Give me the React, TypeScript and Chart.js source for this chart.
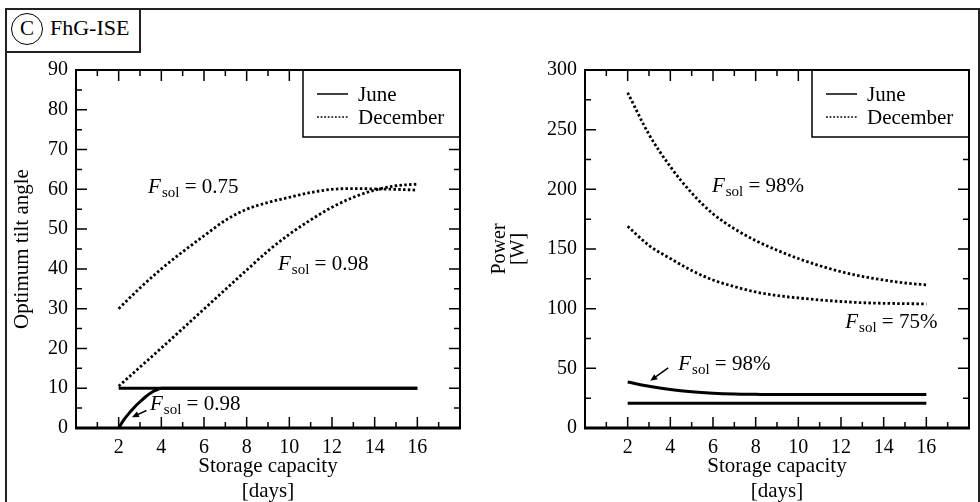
import React, { useEffect, useRef } from "react";
import { Chart, registerables } from "chart.js";

Chart.register(...registerables);

const SERIF = "'Liberation Serif', 'Times New Roman', Times, serif";
Chart.defaults.font.family = SERIF;
Chart.defaults.color = "#000";

// ---------- data ----------
const DAYS = [2, 3, 4, 5, 6, 7, 8, 9, 10, 11, 12, 13, 14, 15, 16];
const X_TICK_LABELS = [2, 4, 6, 8, 10, 12, 14, 16];
const LEGEND_LABELS = ["June", "December"];

// Left panel: optimum tilt angle
const TILT_DEC_075 = [30, 35.2, 40, 44.3, 48.3, 52.2, 55, 56.7, 58, 59.2, 60, 60.2, 60.1, 60, 59.8];
const TILT_DEC_098 = [10.5, 15.3, 20.1, 25, 29.9, 34.8, 39.7, 44.5, 48.7, 52.3, 55.5, 58, 59.8, 60.9, 61.3];
const TILT_JUN_075 = [10, 10, 10, 10, 10, 10, 10, 10, 10, 10, 10, 10, 10, 10, 10];
const TILT_JUN_098_DAYS = [2, 2.25, 2.5, 2.75, 3, 3.25, 3.5, 3.75, 4, 5, 6, 7, 8, 9, 10, 11, 12, 13, 14, 15, 16];
const TILT_JUN_098 = [0, 2.1, 3.8, 5.3, 6.6, 7.8, 8.8, 9.5, 10, 10, 10, 10, 10, 10, 10, 10, 10, 10, 10, 10, 10];

// Right panel: power [W]
const POWER_DEC_098 = [281, 246, 219, 197, 179.5, 167, 157, 149, 142, 136, 131, 127, 124, 121.5, 120];
const POWER_DEC_075 = [169, 153, 142, 132, 124, 118.5, 114, 111, 109, 107.3, 106, 105, 104.5, 104.2, 104];
const POWER_JUN_098 = [38.5, 35, 32.3, 30.4, 29.2, 28.5, 28.2, 28, 28, 28, 28, 28, 28, 28, 28];
const POWER_JUN_075 = [20.7, 20.7, 20.7, 20.7, 20.7, 20.7, 20.7, 20.7, 20.7, 20.7, 20.7, 20.7, 20.7, 20.7, 20.7];

const TILT_LABELS = { dec075: "0.75", dec098: "0.98", jun098: "0.98" };
const POWER_LABELS = { dec098: "98%", dec075: "75%", jun098: "98%" };

// ---------- helpers ----------
const pts = (xs: number[], ys: number[]) => xs.map((x, i) => ({ x, y: ys[i] }));

const solid = {
  borderColor: "#000",
  borderWidth: 3,
  pointRadius: 0,
  cubicInterpolationMode: "monotone",
  borderCapStyle: "butt",
  fill: false,
};
const dotted = {
  ...solid,
  borderWidth: 2.8,
  borderDash: [2.5, 2.3],
};

const isMultiple = (v: number, step: number) => Math.abs(v / step - Math.round(v / step)) < 1e-6;

const frameTicksPlugin = {
  id: "frameTicks",
  afterDatasetsDraw(chart: any, _args: any, opts: any) {
    const { ctx, chartArea: a, scales } = chart;
    const xs = scales.x;
    const ys = scales.y;
    ctx.save();
    ctx.strokeStyle = "#000";
    ctx.lineWidth = 1.5;
    ctx.setLineDash([]);
    for (let v = xs.min; v <= xs.max + 1e-9; v += opts.xMinor) {
      const px = xs.getPixelForValue(v);
      const len = isMultiple(v, opts.xMajor) ? 11 : 6;
      ctx.beginPath();
      ctx.moveTo(px, a.bottom);
      ctx.lineTo(px, a.bottom - len);
      ctx.moveTo(px, a.top);
      ctx.lineTo(px, a.top + len);
      ctx.stroke();
    }
    for (let v = ys.min; v <= ys.max + 1e-9; v += opts.yMinor) {
      const py = ys.getPixelForValue(v);
      const len = isMultiple(v, opts.yMajor) ? 11 : 6;
      ctx.beginPath();
      ctx.moveTo(a.left, py);
      ctx.lineTo(a.left + len, py);
      ctx.moveTo(a.right, py);
      ctx.lineTo(a.right - len, py);
      ctx.stroke();
    }
    ctx.lineWidth = 2;
    ctx.strokeRect(a.left, a.top, a.right - a.left, a.bottom - a.top);
    ctx.lineWidth = 3;
    ctx.beginPath();
    ctx.moveTo(a.left - 1, a.bottom);
    ctx.lineTo(a.right + 1, a.bottom);
    ctx.stroke();
    ctx.restore();
  },
};

const boxLegendPlugin = {
  id: "boxLegend",
  afterDraw(chart: any, _args: any, opts: any) {
    const { ctx, chartArea: a } = chart;
    const w = 157;
    const h = 67;
    const left = a.right - w;
    const top = a.top;
    ctx.save();
    ctx.fillStyle = "#fff";
    ctx.fillRect(left, top + 1, w - 1, h - 1);
    ctx.strokeStyle = "#000";
    ctx.lineWidth = 1.5;
    ctx.setLineDash([]);
    ctx.beginPath();
    ctx.moveTo(left, top);
    ctx.lineTo(left, top + h);
    ctx.lineTo(a.right, top + h);
    ctx.stroke();
    (opts.labels as string[]).forEach((label, i) => {
      const ly = top + 24 + i * 23;
      ctx.lineWidth = i === 0 ? 1.5 : 1.6;
      ctx.setLineDash(i === 0 ? [] : [1.8, 1.8]);
      ctx.beginPath();
      ctx.moveTo(left + 14, ly);
      ctx.lineTo(left + 45, ly);
      ctx.stroke();
      ctx.setLineDash([]);
      ctx.fillStyle = "#000";
      ctx.font = `21px ${SERIF}`;
      ctx.textAlign = "left";
      ctx.textBaseline = "alphabetic";
      ctx.fillText(label, left + 55, top + 31 + i * 22.5);
    });
    ctx.restore();
  },
};

const fsolPlugin = {
  id: "fsol",
  afterDraw(chart: any, _args: any, opts: any) {
    const { ctx, scales } = chart;
    const xs = scales.x;
    const ys = scales.y;
    ctx.save();
    ctx.fillStyle = "#000";
    ctx.strokeStyle = "#000";
    ctx.textAlign = "left";
    ctx.textBaseline = "alphabetic";
    for (const it of opts.items) {
      const x = xs.getPixelForValue(it.x);
      const y = ys.getPixelForValue(it.y);
      ctx.font = `italic 21px ${SERIF}`;
      ctx.fillText("F", x, y);
      let cx = x + ctx.measureText("F").width + 1;
      ctx.font = `15px ${SERIF}`;
      ctx.fillText("sol", cx, y + 4);
      cx += ctx.measureText("sol").width;
      ctx.font = `21px ${SERIF}`;
      ctx.fillText(" = " + it.text, cx, y);
      if (it.arrow) {
        const [tx, ty, hx, hy] = it.arrow;
        const x1 = xs.getPixelForValue(tx);
        const y1 = ys.getPixelForValue(ty);
        const x2 = xs.getPixelForValue(hx);
        const y2 = ys.getPixelForValue(hy);
        const ang = Math.atan2(y2 - y1, x2 - x1);
        ctx.lineWidth = 1.5;
        ctx.beginPath();
        ctx.moveTo(x1, y1);
        ctx.lineTo(x2 - 4 * Math.cos(ang), y2 - 4 * Math.sin(ang));
        ctx.stroke();
        const L = 7;
        const W = 3;
        ctx.beginPath();
        ctx.moveTo(x2, y2);
        ctx.lineTo(x2 - L * Math.cos(ang) + W * Math.sin(ang), y2 - L * Math.sin(ang) - W * Math.cos(ang));
        ctx.lineTo(x2 - L * Math.cos(ang) - W * Math.sin(ang), y2 - L * Math.sin(ang) + W * Math.cos(ang));
        ctx.closePath();
        ctx.fill();
      }
    }
    ctx.restore();
  },
};

const tickFont = { family: SERIF, size: 20 };

function xScale() {
  return {
    type: "linear",
    position: "bottom",
    min: 0,
    max: 18,
    afterFit: (s: any) => {
      s.height = 74;
    },
    grid: { display: false, drawTicks: false, tickLength: 0 },
    border: { display: false },
    ticks: {
      stepSize: 2,
      autoSkip: false,
      maxRotation: 0,
      padding: 8,
      font: tickFont,
      color: "#000",
      callback: (v: any) => (X_TICK_LABELS.includes(Number(v)) ? String(v) : ""),
    },
    title: {
      display: true,
      text: ["Storage capacity", "[days]"],
      font: { family: SERIF, size: 21, lineHeight: 25 / 21 },
      color: "#000",
      padding: { top: 0, bottom: -2 },
    },
  };
}

function tiltConfig(): any {
  return {
    type: "line",
    data: {
      datasets: [
        { label: "December, Fsol = 0.75", data: pts(DAYS, TILT_DEC_075), ...dotted },
        { label: "December, Fsol = 0.98", data: pts(DAYS, TILT_DEC_098), ...dotted },
        { label: "June, Fsol = 0.75", data: pts(DAYS, TILT_JUN_075), ...solid },
        { label: "June, Fsol = 0.98", data: pts(TILT_JUN_098_DAYS, TILT_JUN_098), ...solid },
      ],
    },
    options: {
      responsive: false,
      animation: false,
      devicePixelRatio: 1,
      layout: { padding: { top: 70, right: 30, left: 0, bottom: 0 } },
      plugins: {
        legend: { display: false },
        tooltip: { enabled: false },
        frameTicks: { xMinor: 1, xMajor: 2, yMinor: 5, yMajor: 10 },
        boxLegend: { labels: LEGEND_LABELS },
        fsol: {
          items: [
            { x: 3.38, y: 59.1, text: TILT_LABELS.dec075 },
            { x: 9.47, y: 39.7, text: TILT_LABELS.dec098 },
            { x: 3.47, y: 4.5, text: TILT_LABELS.jun098, arrow: [3.3, 4.4, 2.62, 2.7] },
          ],
        },
      },
      scales: {
        x: xScale(),
        y: {
          type: "linear",
          min: 0,
          max: 90,
          afterFit: (s: any) => {
            s.width = 76;
          },
          grid: { display: false, drawTicks: false, tickLength: 0 },
          border: { display: false },
          ticks: { stepSize: 10, padding: 8, font: tickFont, color: "#000" },
          title: {
            display: true,
            text: "Optimum tilt angle",
            font: { family: SERIF, size: 21, lineHeight: 1.2 },
            color: "#000",
            padding: { top: 10, bottom: 0 },
          },
        },
      },
    },
    plugins: [frameTicksPlugin, boxLegendPlugin, fsolPlugin],
  };
}

function powerConfig(): any {
  return {
    type: "line",
    data: {
      datasets: [
        { label: "December, Fsol = 98%", data: pts(DAYS, POWER_DEC_098), ...dotted },
        { label: "December, Fsol = 75%", data: pts(DAYS, POWER_DEC_075), ...dotted },
        { label: "June, Fsol = 98%", data: pts(DAYS, POWER_JUN_098), ...solid },
        { label: "June, Fsol = 75%", data: pts(DAYS, POWER_JUN_075), ...solid },
      ],
    },
    options: {
      responsive: false,
      animation: false,
      devicePixelRatio: 1,
      layout: { padding: { top: 70, right: 11, left: 0, bottom: 0 } },
      plugins: {
        legend: { display: false },
        tooltip: { enabled: false },
        frameTicks: { xMinor: 1, xMajor: 2, yMinor: 25, yMajor: 50 },
        boxLegend: { labels: LEGEND_LABELS },
        fsol: {
          items: [
            { x: 5.95, y: 198, text: POWER_LABELS.dec098 },
            { x: 12.2, y: 83.8, text: POWER_LABELS.dec075 },
            { x: 4.37, y: 48.6, text: POWER_LABELS.jun098, arrow: [3.9, 50.3, 3.06, 39.6] },
          ],
        },
      },
      scales: {
        x: xScale(),
        y: {
          type: "linear",
          min: 0,
          max: 300,
          afterFit: (s: any) => {
            s.width = 95;
          },
          grid: { display: false, drawTicks: false, tickLength: 0 },
          border: { display: false },
          ticks: { stepSize: 50, padding: 8, font: tickFont, color: "#000" },
          title: {
            display: true,
            text: ["Power", "[W]"],
            font: { family: SERIF, size: 20, lineHeight: 0.95 },
            color: "#000",
            padding: { top: 0, bottom: 0 },
          },
        },
      },
    },
    plugins: [frameTicksPlugin, boxLegendPlugin, fsolPlugin],
  };
}

function ChartCanvas({ make, left }: { make: () => any; left: number }) {
  const ref = useRef<HTMLCanvasElement>(null);
  useEffect(() => {
    const chart = new Chart(ref.current as HTMLCanvasElement, make());
    return () => chart.destroy();
  }, []);
  return (
    <canvas
      ref={ref}
      width={490}
      height={502}
      style={{ position: "absolute", left, top: 0, width: 490, height: 502 }}
    />
  );
}

export default function App() {
  return (
    <div
      style={{
        position: "absolute",
        left: 0,
        top: 0,
        width: 980,
        height: 502,
        overflow: "hidden",
        background: "#fff",
        fontFamily: SERIF,
      }}
    >
      <div
        style={{
          position: "absolute",
          left: 5,
          top: 8,
          width: 975,
          height: 540,
          border: "2px solid #222",
          boxSizing: "border-box",
        }}
      />
      <div
        style={{
          position: "absolute",
          left: 5,
          top: 8,
          width: 136,
          height: 45,
          border: "2px solid #222",
          boxSizing: "border-box",
        }}
      />
      <div
        style={{
          position: "absolute",
          left: 11,
          top: 13,
          width: 32,
          height: 32,
          border: "1.5px solid #000",
          borderRadius: "50%",
          boxSizing: "border-box",
          textAlign: "center",
          lineHeight: "29px",
          fontSize: 21,
          color: "#000",
        }}
      >
        C
      </div>
      <div
        style={{
          position: "absolute",
          left: 50,
          top: 16,
          fontSize: 22,
          lineHeight: "24px",
          color: "#000",
        }}
      >
        FhG-ISE
      </div>
      <ChartCanvas make={tiltConfig} left={0} />
      <ChartCanvas make={powerConfig} left={490} />
    </div>
  );
}
